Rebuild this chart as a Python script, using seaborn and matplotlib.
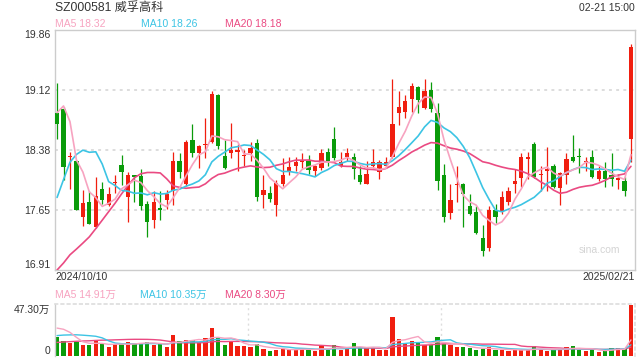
import numpy as np
import pandas as pd
import matplotlib
matplotlib.use("Agg")
import matplotlib.pyplot as plt
import seaborn as sns

# ---------------- data ----------------
title = "SZ000581 威孚高科"
timestamp = "02-21 15:00"
start_label = "2024/10/10"
end_label = "2025/02/21"
price_ticks = [16.91, 17.65, 18.38, 19.12, 19.86]
vol_ticks = [0, 47.30]
vol_tick_labels = ["0", "47.30万"]

open_ = [18.83, 18.89, 18.30, 18.25, 17.56, 17.75, 17.44, 17.90, 17.71, 17.98,
         18.20, 17.81, 18.07, 18.06, 17.72, 17.52, 17.67, 17.77, 17.88, 18.25,
         17.97, 18.51, 18.35, 18.44, 18.48, 19.06, 18.31, 18.35, 18.36, 18.31,
         18.34, 18.47, 17.83, 17.85, 17.71, 17.96, 18.11, 18.18, 18.24, 18.25,
         18.13, 18.16, 18.36, 18.52, 18.18, 18.29, 18.29, 18.08, 17.97, 18.18,
         18.11, 18.18, 18.29, 18.83, 18.85, 19.01, 19.16, 18.90, 19.12, 18.84,
         18.08, 17.61, 17.95, 17.97, 17.70, 17.62, 17.30, 17.18, 17.65, 17.62,
         17.75, 17.97, 18.04, 18.27, 18.46, 18.08, 18.13, 18.18, 17.91, 18.08,
         18.29, 18.30, 18.24, 18.30, 18.03, 18.13, 18.08, 18.02, 18.00, 18.52]
close = [18.70, 18.17, 18.31, 17.65, 17.73, 17.48, 17.82, 17.77, 17.84, 17.99,
         18.11, 18.07, 18.05, 17.69, 17.50, 17.74, 17.65, 17.84, 18.25, 18.11,
         18.48, 18.34, 18.43, 18.45, 19.07, 18.43, 18.16, 18.38, 18.38, 18.32,
         18.41, 17.80, 17.89, 17.78, 17.98, 18.08, 18.17, 18.24, 18.25, 18.14,
         18.19, 18.34, 18.25, 18.28, 18.23, 18.35, 18.15, 17.99, 18.09, 18.24,
         18.24, 18.23, 18.70, 18.91, 18.98, 19.17, 18.99, 19.11, 18.88, 18.00,
         17.56, 17.77, 17.96, 17.84, 17.60, 17.36, 17.14, 17.65, 17.56, 17.80,
         17.88, 18.00, 18.29, 18.29, 18.05, 18.09, 18.14, 17.93, 18.10, 18.27,
         18.25, 18.29, 18.25, 18.05, 18.13, 18.03, 18.03, 18.03, 17.88, 19.65]
high = [19.20, 18.91, 18.36, 18.26, 17.89, 17.88, 18.05, 17.99, 17.93, 18.07,
        18.32, 18.11, 18.08, 18.15, 17.76, 17.88, 17.88, 17.89, 18.36, 18.34,
        18.50, 18.70, 18.44, 18.78, 19.11, 19.07, 18.51, 18.71, 18.46, 18.38,
        18.48, 18.52, 18.07, 17.94, 18.02, 18.28, 18.30, 18.29, 18.35, 18.32,
        18.20, 18.40, 18.41, 18.66, 18.36, 18.41, 18.34, 18.18, 18.25, 18.40,
        18.26, 18.30, 19.25, 19.11, 19.06, 19.20, 19.17, 19.25, 19.22, 18.96,
        18.21, 17.97, 18.18, 17.98, 17.84, 17.70, 17.46, 17.70, 17.72, 17.88,
        17.93, 18.15, 18.34, 18.36, 18.48, 18.19, 18.42, 18.21, 18.11, 18.35,
        18.56, 18.41, 18.30, 18.38, 18.18, 18.24, 18.34, 18.09, 18.05, 19.68]
low = [18.52, 18.01, 17.90, 17.64, 17.45, 17.47, 17.43, 17.72, 17.70, 17.86,
       17.95, 17.50, 17.75, 17.64, 17.32, 17.43, 17.52, 17.66, 17.71, 18.04,
       17.94, 18.29, 18.16, 18.28, 18.47, 18.40, 18.15, 18.28, 18.12, 18.18,
       18.25, 17.76, 17.67, 17.75, 17.57, 17.94, 18.07, 18.12, 18.16, 18.09,
       18.06, 18.14, 18.19, 18.26, 18.17, 18.25, 18.03, 17.97, 17.96, 18.16,
       18.03, 18.16, 18.28, 18.69, 18.77, 18.85, 18.84, 18.88, 18.85, 17.89,
       17.50, 17.54, 17.75, 17.44, 17.59, 17.35, 17.08, 17.14, 17.49, 17.60,
       17.71, 17.86, 17.93, 18.03, 18.04, 17.88, 17.88, 17.92, 17.71, 17.97,
       18.23, 18.10, 18.13, 18.04, 18.00, 17.93, 17.94, 17.90, 17.82, 18.23]
volume = [17.3, 13.6, 11.7, 12.9, 10.4, 10.4, 13.6, 11.0, 8.5, 11.0,
          11.0, 12.9, 12.3, 11.7, 12.9, 10.4, 11.0, 8.5, 19.9, 13.9,
          15.1, 14.8, 12.9, 16.7, 25.5, 16.7, 10.4, 14.2, 9.1, 9.1,
          8.5, 11.0, 6.6, 4.7, 6.0, 6.6, 6.0, 6.0, 6.6, 6.0,
          4.7, 9.8, 6.0, 10.4, 6.0, 7.3, 11.7, 7.3, 7.3, 7.3,
          6.0, 6.0, 36.3, 16.1, 11.0, 14.2, 12.9, 10.4, 10.4, 18.0,
          11.0, 9.8, 7.9, 7.9, 7.3, 6.0, 6.6, 7.9, 5.4, 6.0,
          4.3, 6.0, 5.8, 5.6, 9.1, 6.0, 4.9, 6.0, 6.2, 8.7,
          9.1, 6.0, 4.4, 5.8, 3.65, 5.2, 7.8, 7.8, 6.45, 47.3]
# sessions before the visible window (only feed the moving averages)
pre_close = [16.45, 16.30, 16.25, 16.26, 15.95, 15.80, 15.70, 15.75, 15.90, 15.84,
             15.98, 16.18, 16.70, 17.20, 17.74, 17.76, 19.27, 20.00, 18.47]
pre_volume = [5.0, 5.5, 6.0, 5.2, 6.5, 7.0, 6.0, 6.8, 6.5, 7.5,
              9.0, 10.0, 12.0, 14.0, 15.0, 19.0, 26.0, 36.0, 31.0]

# ---------------- style ----------------
RED = "#f01e0f"
GREEN = "#0a9b0a"
C5, C10, C20 = "#f7a3c0", "#3cc4e4", "#ea4a82"
FRAME = "#cccccc"
GRID = "#dddddd"
TXT = "#333333"

sns.set_theme(style="white")
plt.rcParams['font.family'] = ['Liberation Sans', 'Noto Sans CJK SC', 'DejaVu Sans']

n = len(close)
df = pd.DataFrame({"i": np.arange(n), "open": open_, "close": close,
                   "high": high, "low": low, "vol": volume})
allc = pd.Series(pre_close + close)
allv = pd.Series(pre_volume + volume)
for w in (5, 10, 20):
    df[f"ma{w}"] = allc.rolling(w).mean().iloc[-n:].to_numpy()
    df[f"vma{w}"] = allv.rolling(w).mean().iloc[-n:].to_numpy()
up = df["close"] >= df["open"]
colors = np.where(up, RED, GREEN)

W, H = 640.0, 360.0
def frame(x0, y0, x1, y1):
    return [x0 / W, 1 - y1 / H, (x1 - x0) / W, (y1 - y0) / H]

fig = plt.figure(figsize=(6.4, 3.6), dpi=100)
fig.patch.set_facecolor("white")
ax = fig.add_axes(frame(54.5, 29.5, 634.5, 270))
axv = fig.add_axes(frame(54.5, 304, 634.5, 356))

XL = (-0.4, 89.55)

# ---- price panel ----
ax.vlines(df["i"], df["low"], df["high"], colors=colors, lw=0.9, zorder=2)
body_bottom = np.minimum(df["open"], df["close"])
body_h = np.maximum(np.abs(df["close"] - df["open"]), 0.013)
ax.bar(df["i"], body_h, bottom=body_bottom, width=0.66, color=colors,
       linewidth=0, zorder=3)
for col, c in (("ma20", C20), ("ma10", C10), ("ma5", C5)):
    sns.lineplot(data=df, x="i", y=col, color=c, lw=1.2, ax=ax, zorder=4)
for t in price_ticks[1:-1]:
    ax.axhline(t, color=GRID, lw=1.4, ls=(0, (1.5, 2.2)), zorder=1)
ax.set_xlim(*XL)
ax.set_ylim(price_ticks[0], price_ticks[-1])
ax.set_xticks([])
ax.set_yticks(price_ticks)
ax.set_yticklabels([f"{t:.2f}" for t in price_ticks], fontsize=7.5, color=TXT)
ax.tick_params(axis="y", length=0, pad=3)
labs = ax.get_yticklabels()
labs[0].set_va("bottom")
labs[-1].set_va("top")
ax.set_xlabel("")
ax.set_ylabel("")
for s in ax.spines.values():
    s.set_color(FRAME)
    s.set_linewidth(1)
ax.text(0.975, 0.085, "sina.com", transform=ax.transAxes, ha="right", va="center",
        fontsize=7.5, color="#d4d4d4")

# ---- volume panel ----
axv.bar(df["i"], df["vol"], width=0.66, color=colors, linewidth=0, zorder=2)
for col, c in (("vma20", C20), ("vma10", C10), ("vma5", C5)):
    sns.lineplot(data=df, x="i", y=col, color=c, lw=1.0, ax=axv, zorder=3)
axv.set_xlim(*XL)
axv.set_ylim(0, 48.2)
for k in (1, 2):
    axv.axvline(XL[0] + (XL[1] - XL[0]) * k / 3, color=GRID, lw=1.0,
                ls=(0, (1.5, 2.2)), zorder=1)
axv.set_xticks([])
axv.set_yticks(vol_ticks)
axv.set_yticklabels(vol_tick_labels, fontsize=7.5, color=TXT)
axv.tick_params(axis="y", length=0, pad=3)
vl = axv.get_yticklabels()
vl[0].set_va("bottom")
vl[-1].set_va("top")
axv.set_xlabel("")
axv.set_ylabel("")
axv.spines["bottom"].set_visible(False)
axv.spines["left"].set_color(FRAME)
axv.spines["left"].set_linewidth(1)
for side in ("top", "right"):
    axv.spines[side].set_color(GRID)
    axv.spines[side].set_linewidth(1.2)
    axv.spines[side].set_linestyle((0, (1.5, 2.2)))

# ---- texts ----
def ftext(x, y, s, **kw):
    fig.text(x / W, 1 - y / H, s, **kw)

ftext(55, 8, title, fontsize=8.7, color=TXT, va="center", ha="left")
ftext(635, 8, timestamp, fontsize=7.5, color=TXT, va="center", ha="right")
last = df.iloc[-1]
ftext(55, 24, f"MA5 {last['ma5']:.2f}", fontsize=7.5, color=C5, va="center")
ftext(141, 24, f"MA10 {last['ma10']:.2f}", fontsize=7.5, color=C10, va="center")
ftext(225, 24, f"MA20 {last['ma20']:.2f}", fontsize=7.5, color=C20, va="center")
ftext(55, 277, start_label, fontsize=7.5, color=TXT, va="center", ha="left")
ftext(635, 277, end_label, fontsize=7.5, color=TXT, va="center", ha="right")
ftext(55, 295, f"MA5 {last['vma5']:.2f}万", fontsize=7.5, color=C5, va="center")
ftext(140, 295, f"MA10 {last['vma10']:.2f}万", fontsize=7.5, color=C10, va="center")
ftext(225, 295, f"MA20 {last['vma20']:.2f}万", fontsize=7.5, color=C20, va="center")

fig.savefig("out.png", dpi=100, facecolor="white")
